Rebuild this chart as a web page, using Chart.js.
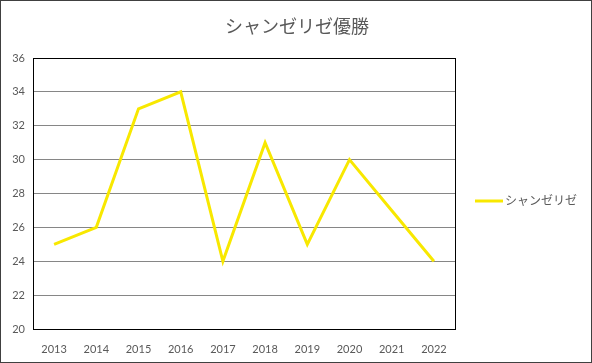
<!DOCTYPE html>
<html>
<head>
<meta charset="utf-8">
<script src="https://cdn.jsdelivr.net/npm/chart.js@4"></script>
<style>
  html, body { margin: 0; padding: 0; background: #fff; }
  #wrap { width: 592px; height: 363px; }
</style>
</head>
<body>
<div id="wrap"><canvas id="chart"></canvas></div>
<script>
const years = ["2013", "2014", "2015", "2016", "2017", "2018", "2019", "2020", "2021", "2022"];
const champs = [25, 26, 33, 34, 24, 31, 25, 30, 27, 24];
const seriesName = "シャンゼリゼ";
const chartTitle = "シャンゼリゼ優勝";

const FONT = "Lato, 'Noto Sans CJK JP', sans-serif";
const LINE_COLOR = "#f8e800";

// title, frame, plot border and legend drawn by hand
const decor = {
    id: "decor",
    afterDraw(chart) {
        const c = chart.ctx;
        const a = chart.chartArea;
        c.save();
        c.strokeStyle = "#000";
        c.lineWidth = 1;
        c.strokeRect(Math.round(a.left) + 0.5, Math.round(a.top) + 0.5,
            Math.round(a.right - a.left), Math.round(a.bottom - a.top));
        c.strokeStyle = "#404040";
        c.strokeRect(0.5, 0.5, chart.width - 1, chart.height - 1);
        // title
        c.fillStyle = "#595959";
        c.font = "18px " + FONT;
        c.textAlign = "center";
        c.textBaseline = "middle";
        c.fillText(chartTitle, 297, 27);
        // legend
        const ly = 201;
        const lx = a.right + 20;
        c.strokeStyle = LINE_COLOR;
        c.lineWidth = 3;
        c.beginPath();
        c.moveTo(lx, ly);
        c.lineTo(lx + 28, ly);
        c.stroke();
        c.font = "12px " + FONT;
        c.textAlign = "left";
        c.fillText(seriesName, lx + 30, ly);
        c.restore();
    }
};

new Chart(document.getElementById("chart").getContext("2d"), {
    type: "line",
    data: {
        labels: years,
        datasets: [{
            label: seriesName,
            data: champs,
            borderColor: LINE_COLOR,
            borderWidth: 3,
            pointRadius: 0,
            tension: 0,
            fill: false
        }]
    },
    options: {
        responsive: true,
        maintainAspectRatio: false,
        animation: false,
        layout: { padding: { left: 0, right: 137, top: 58, bottom: 0 } },
        plugins: {
            legend: { display: false },
            tooltip: { enabled: false },
            title: { display: false }
        },
        scales: {
            x: {
                offset: true,
                grid: { display: false },
                border: { display: false },
                ticks: { color: "#595959", font: { family: FONT, size: 11 }, padding: 6, maxRotation: 0 },
                afterFit(s) { s.height = 34; }
            },
            y: {
                min: 20,
                max: 36,
                ticks: { stepSize: 2, color: "#595959", font: { family: FONT, size: 11 }, padding: 8 },
                grid: { color: "#868686", drawTicks: false },
                border: { display: false },
                afterFit(s) { s.width = 33; }
            }
        }
    },
    plugins: [decor]
});
</script>
</body>
</html>
